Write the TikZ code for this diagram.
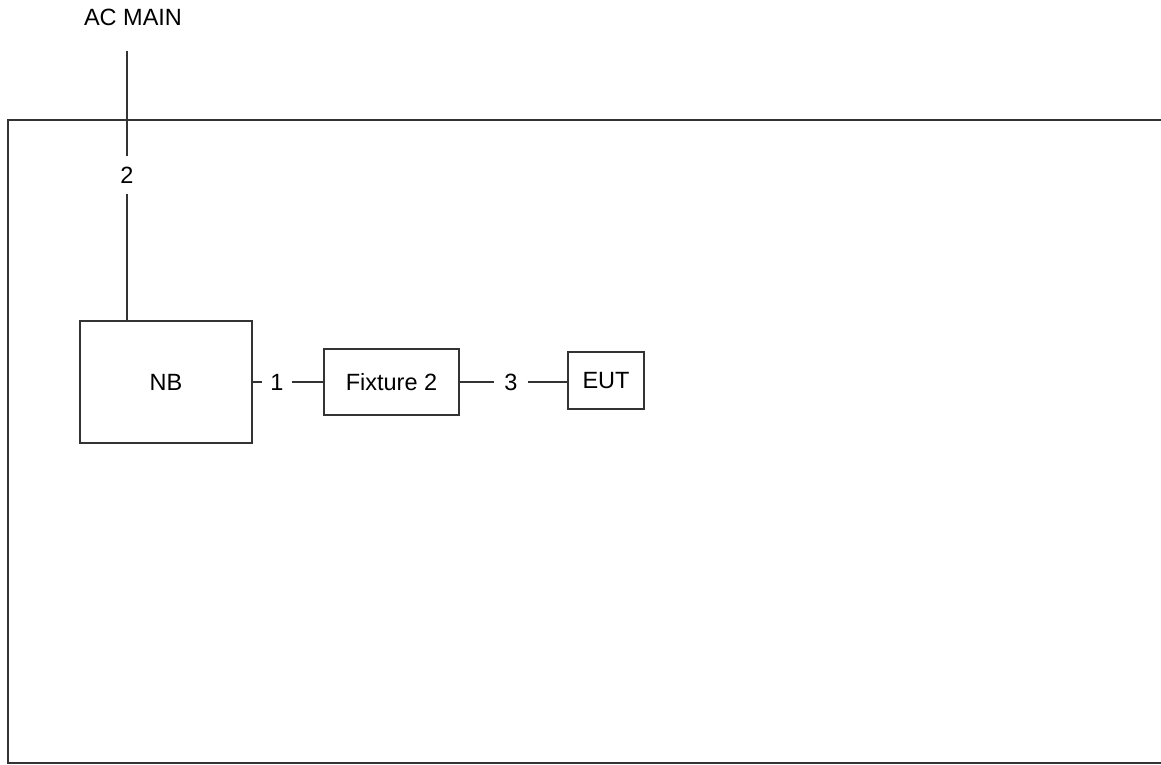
\documentclass[tikz,border=0pt]{standalone}
\usepackage{fontspec}
\setmainfont{Liberation Sans}
\begin{document}
\begin{tikzpicture}
[x=1pt,y=-1pt,
  every node/.style={font=\fontsize{23.5}{27}\selectfont},
  boxdecorate/.style={shape=rectangle,draw=black!80,line width=1.3pt,inner sep=0pt},%
  labeldecorate/.style={shape=rectangle,inner xsep=8pt,inner ysep=11pt},%
  linedecorate/.style={-,draw=black!80,line width=1.3pt}]
\useasboundingbox (0,0) rectangle (1161,764);
\clip (0,0) rectangle (1161,764);
%% room
\draw[black!80,line width=1.3pt] (8,120) rectangle (1200,763);
%% supply
\node (acmain) at (133,17) {AC MAIN};
\coordinate (acend) at (127,51);
%% boxes
\foreach \nodename/\x/\y/\w/\h/\txt in {nb/166/382/172/122/NB, fix/391.5/382/135/66/Fixture 2, eut/606/380.5/76/57/EUT} {
  \node (\nodename) at (\x,\y) [boxdecorate,minimum width=\w,minimum height=\h] {\txt};
}
%% cable numbers
\node (two) at (127,175) [labeldecorate] {2};
\node (one) at (277,382) [labeldecorate] {1};
\node (three) at (511,382) [labeldecorate,inner xsep=10pt] {3};
%% cables
\path
\foreach \startnode/\endnode in {nb/one, one/fix, fix/three, acend/two} {
  (\startnode) edge[linedecorate] (\endnode)
};
\path (two) edge[linedecorate] (two |- nb.north)
  (three) edge[linedecorate] (three -| eut.west);
\end{tikzpicture}
\end{document}
